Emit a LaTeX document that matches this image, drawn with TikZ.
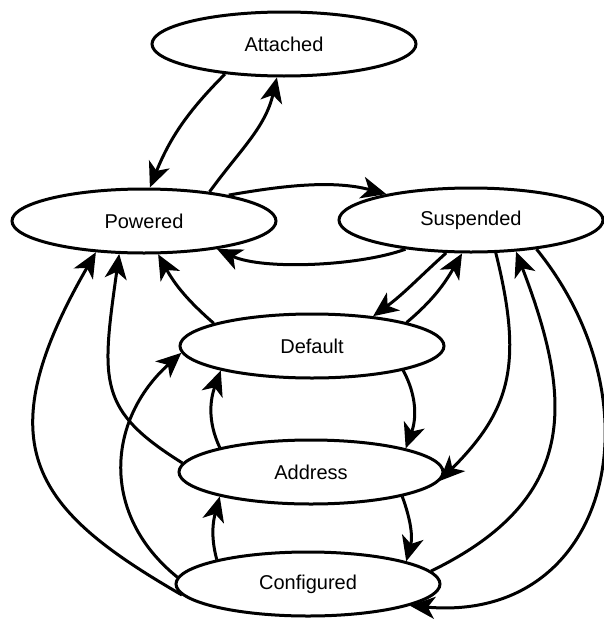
\documentclass[tikz,border=0pt]{standalone}
\usepackage{fontspec}
\setmainfont{Liberation Sans}
\usetikzlibrary{arrows.meta,shapes.geometric}
\begin{document}
\begin{tikzpicture}[x=1pt,y=-1pt,
  state/.style={ellipse, draw, line width=3pt, minimum width=264pt,
    minimum height=64pt, inner sep=0pt, font=\fontsize{20}{24}\selectfont},
  trans/.style={line width=3pt,
    -{Stealth[length=25pt,width=22pt,inset=7pt]}},
]
\useasboundingbox (0,0) rectangle (604,621);

% device states
\node[state] (att) at (284,44)  {Attached};
\node[state] (pow) at (144,221) {Powered};
\node[state] (sus) at (471,220) {Suspended};
\node[state] (def) at (312,346) {Default};
\node[state] (adr) at (311,472) {Address};
\node[state] (cfg) at (308,584) {Configured};

% attach / power
\draw[trans] (att.207) to[out=225,in=68] (pow.80);
\draw[trans] (pow.24) to[out=54,in=257] (att.258);

% suspend / resume from powered
\draw[trans] (pow.17) to[out=10,in=165,out distance=55pt,in distance=55pt] (sus.163.5);
\draw[trans] (sus.204) to[out=200,in=335,out distance=50pt,in distance=50pt] (pow.339);

% back to powered
\draw[trans] (cfg.185) to[out=150,in=240,out distance=170pt,in distance=225pt] (pow.213);
\draw[trans] (adr.176) to[out=148,in=262,out distance=100pt,in distance=130pt] (pow.233);
\draw[trans] (def.167) to[out=139,in=299] (pow.293);
\draw[trans] (cfg.177) to[out=141,in=222,out distance=100pt,in distance=100pt] (def.183);

% default <-> suspended
\draw[trans] (sus.233) to[out=222,in=36] (def.26);
\draw[trans] (def.14) to[out=40,in=240] (sus.255);

% address / configured <-> suspended
\draw[trans] (sus.307) to[out=284,in=45,out distance=115pt,in distance=100pt] (adr.356);
\draw[trans] (cfg.6) to[out=26,in=291,out distance=165pt,in distance=160pt] (sus.325);
\draw[trans] (sus.336) to[out=309,in=355,out distance=200pt,in distance=200pt] (cfg.348);

% default <-> address <-> configured
\draw[trans] (def.345) to[out=298,in=70] (adr.14);
\draw[trans] (adr.165) to[out=115,in=250] (def.195);
\draw[trans] (adr.345) to[out=290,in=75] (cfg.13);
\draw[trans] (cfg.165) to[out=105,in=255] (adr.195);
\end{tikzpicture}
\end{document}
